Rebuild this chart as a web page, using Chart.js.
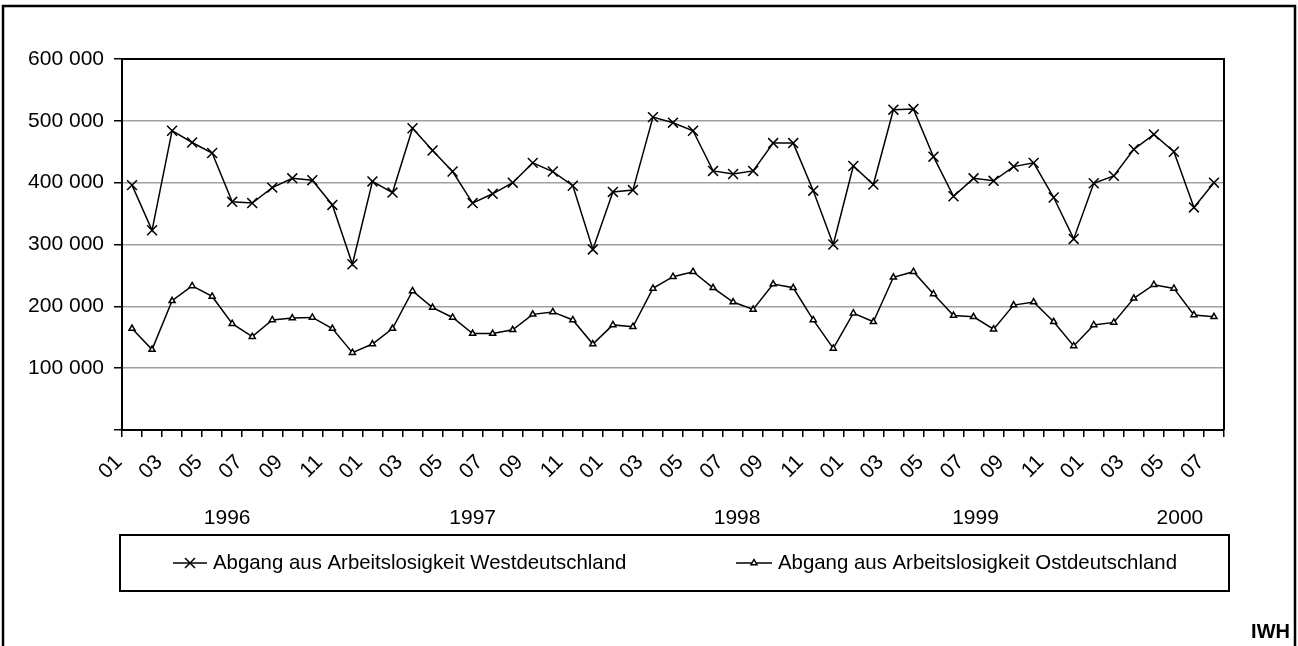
<!DOCTYPE html>
<html>
<head>
<meta charset="utf-8">
<script src="https://cdn.jsdelivr.net/npm/chart.js@4.4.1/dist/chart.umd.min.js"></script>
<style>
body { margin: 0; background: #fff; }
</style>
</head>
<body>
<canvas id="chart1" width="1298" height="646"></canvas>
<script>
const years = ['1996', '1997', '1998', '1999', '2000'];
const monthCount = 55; // 01/1996 .. 07/2000

let months = [];
for (let i = 0; i < monthCount; i++) {
  months.push(years[Math.floor(i / 12)] + '-' + String(i % 12 + 1).padStart(2, '0'));
}

const west = [
  396000, 323000, 484000, 465000, 448000, 369000, 367000, 392000, 407000, 404000, 364000, 268000,
  402000, 384000, 488000, 452000, 418000, 367000, 382000, 400000, 432000, 418000, 395000, 292000,
  385000, 388000, 506000, 497000, 484000, 419000, 414000, 419000, 464000, 464000, 387000, 300000,
  427000, 397000, 518000, 519000, 442000, 378000, 407000, 403000, 426000, 432000, 376000, 309000,
  399000, 411000, 454000, 478000, 450000, 360000, 400000
];
const east = [
  164000, 130000, 209000, 233000, 216000, 172000, 151000, 178000, 181000, 182000, 164000, 125000,
  139000, 164000, 225000, 198000, 182000, 156000, 156000, 162000, 187000, 191000, 178000, 139000,
  170000, 167000, 229000, 248000, 256000, 230000, 207000, 195000, 236000, 230000, 178000, 132000,
  189000, 175000, 247000, 256000, 220000, 185000, 183000, 163000, 202000, 207000, 175000, 136000,
  170000, 174000, 213000, 235000, 229000, 186000, 183000
];
const seriesNames = [
  'Abgang aus Arbeitslosigkeit Westdeutschland',
  'Abgang aus Arbeitslosigkeit Ostdeutschland'
];
const yMax = 600000;
const yStep = 100000;

const font = "'Liberation Sans', Arial, sans-serif";
const fs = 21;
// where the year captions sit, in month index units on the x scale
const yearAt = [4.75, 17, 30.2, 42.1, 52.3];

function fmt(v) {
  if (v === 0) return '';
  return String(v).replace(/\B(?=(\d{3})+(?!\d))/g, ' ');
}

function marker(c, style, x, y) {
  c.save();
  c.strokeStyle = '#000';
  c.lineWidth = 1.5;
  c.beginPath();
  if (style === 'crossRot') {
    c.moveTo(x - 5, y - 5); c.lineTo(x + 5, y + 5);
    c.moveTo(x - 5, y + 5); c.lineTo(x + 5, y - 5);
    c.stroke();
  } else {
    c.fillStyle = '#fff';
    c.moveTo(x, y - 3.5); c.lineTo(x + 3, y + 1.75); c.lineTo(x - 3, y + 1.75);
    c.closePath(); c.fill(); c.stroke();
  }
  c.restore();
}

const decor = {
  id: 'decor',
  beforeDraw(chart) {
    const c = chart.ctx;
    c.save();
    c.fillStyle = '#fff';
    c.fillRect(0, 0, chart.width, chart.height);
    c.restore();
  },
  afterDraw(chart) {
    const c = chart.ctx;
    const a = chart.chartArea;
    const xs = chart.scales.x;
    c.save();
    // plot frame top / right
    c.strokeStyle = '#000';
    c.lineWidth = 2;
    c.beginPath();
    c.moveTo(a.left - 1, a.top);
    c.lineTo(a.right, a.top);
    c.lineTo(a.right, a.bottom);
    c.stroke();

    // outer frame
    c.lineWidth = 2.5;
    c.strokeRect(3, 6, 1292, 700);

    // years
    c.fillStyle = '#000';
    c.font = fs + 'px ' + font;
    c.textAlign = 'center';
    c.textBaseline = 'middle';
    years.forEach((y, i) => c.fillText(y, xs.getPixelForValue(yearAt[i]), 518));

    // legend box
    c.font = '20.4px ' + font;
    c.lineWidth = 2;
    c.strokeRect(120, 535, 1109, 56);
    const items = [{ x: 173, w: 34 }, { x: 736, w: 36 }];
    chart.data.datasets.forEach((ds, i) => {
      const it = items[i];
      const ly = 563;
      c.strokeStyle = '#000';
      c.lineWidth = 1.5;
      c.beginPath();
      c.moveTo(it.x, ly); c.lineTo(it.x + it.w, ly);
      c.stroke();
      marker(c, ds.pointStyle, it.x + it.w / 2, ly);
      c.textAlign = 'left';
      c.fillText(ds.label, it.x + it.w + 6, ly);
    });

    // IWH
    c.font = 'bold 20px ' + font;
    c.textAlign = 'right';
    c.fillText('IWH', 1290, 632);
    c.restore();
  }
};

let ctx1 = document.getElementById('chart1');

let chart1 = new Chart(ctx1, {
  type: 'line',
  data: {
    labels: months,
    datasets: [{
      label: seriesNames[0],
      data: west,
      borderColor: '#000',
      borderWidth: 1.5,
      pointStyle: 'crossRot',
      pointRadius: 7,
      pointBorderColor: '#000',
      pointBorderWidth: 1.5,
      tension: 0
    }, {
      label: seriesNames[1],
      data: east,
      borderColor: '#000',
      borderWidth: 1.5,
      pointStyle: 'triangle',
      pointRadius: 3.5,
      pointBackgroundColor: '#fff',
      pointBorderColor: '#000',
      pointBorderWidth: 1.5,
      tension: 0
    }]
  },
  options: {
    responsive: false,
    animation: false,
    layout: { padding: { top: 59, right: 74, left: 0, bottom: 0 } },
    plugins: { legend: { display: false }, tooltip: { enabled: false } },
    scales: {
      x: {
        offset: true,
        grid: { offset: true, drawOnChartArea: false, drawTicks: true, tickLength: 7, color: '#000', lineWidth: 1.5 },
        border: { color: '#000', width: 2 },
        ticks: {
          autoSkip: false, minRotation: 45, maxRotation: 45,
          padding: 13, labelOffset: -13, color: '#000',
          font: { family: font, size: fs },
          callback: (v, i) => i % 2 === 0 ? months[i].slice(5) : ''
        },
        afterFit: s => { s.height = 216; }
      },
      y: {
        min: 0, max: yMax,
        grid: {
          color: c => c.tick && c.tick.value === 0 ? '#000' : '#a0a0a0',
          lineWidth: 1.5, tickLength: 8, tickColor: '#000'
        },
        border: { color: '#000', width: 2 },
        ticks: {
          stepSize: yStep, padding: 10, color: '#000',
          font: { family: font, size: fs },
          callback: v => fmt(v)
        },
        afterFit: s => { s.width = 122; }
      }
    }
  },
  plugins: [decor]
});
</script>
</body>
</html>
